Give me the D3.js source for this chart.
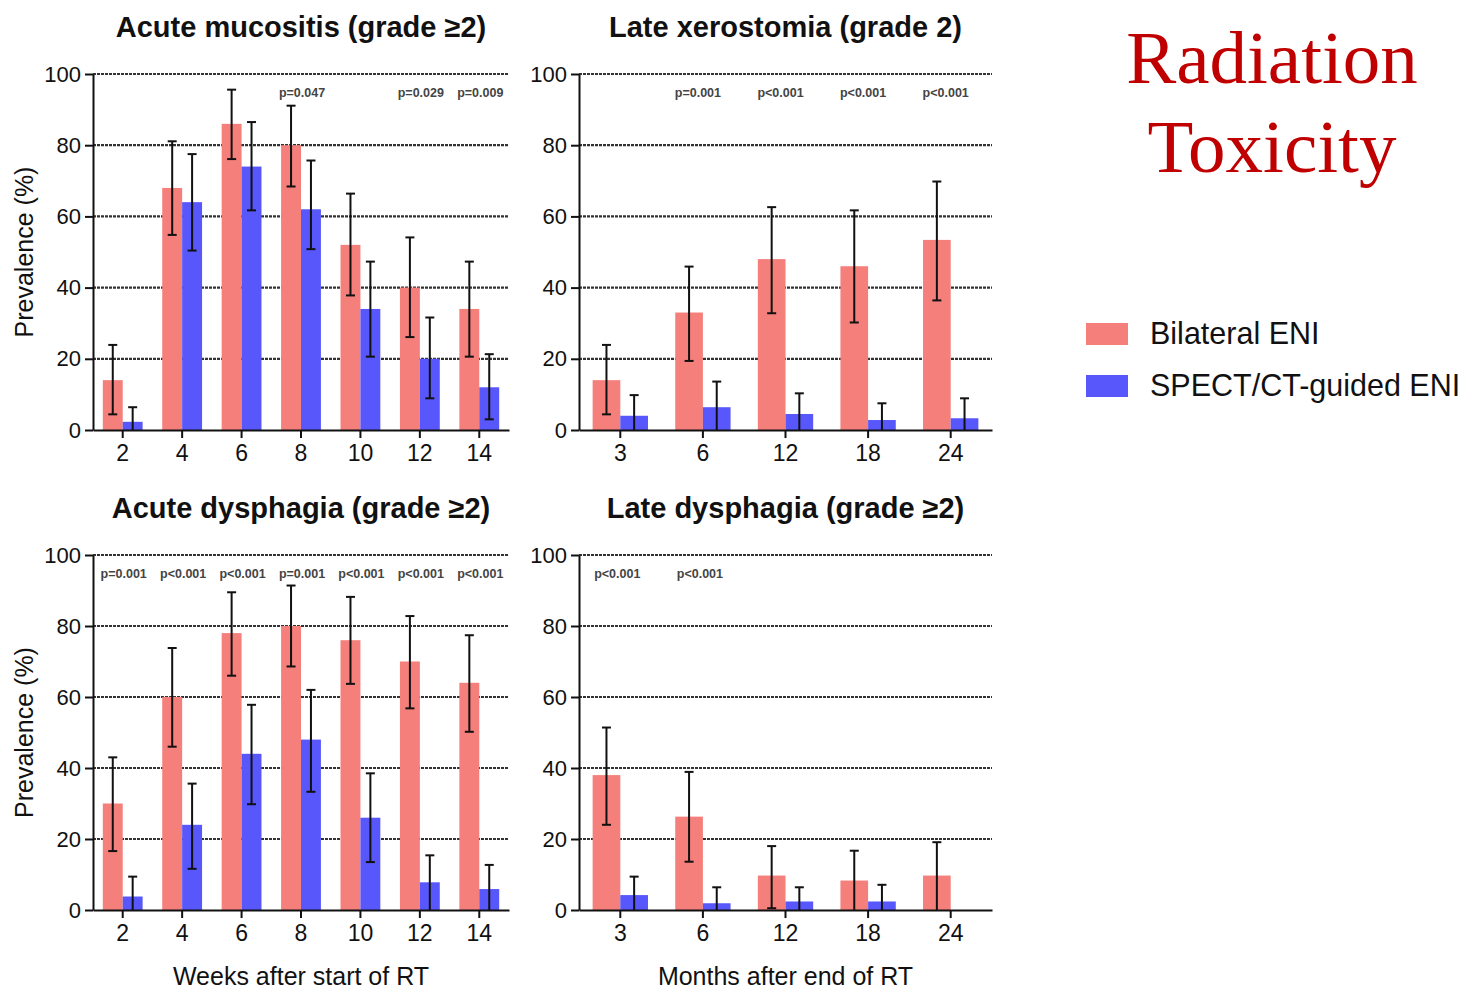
<!DOCTYPE html>
<html>
<head>
<meta charset="utf-8">
<script src="https://cdn.jsdelivr.net/npm/d3@7"></script>
<style>
  body { margin: 0; background: #fff; }
  svg { font-family: "Liberation Sans", Arial, sans-serif; }
</style>
</head>
<body>
<div id="chart"></div>
<script>
var width = 1468,
    height = 989;

// categories
var weeks = ["2", "4", "6", "8", "10", "12", "14"];
var months = ["3", "6", "12", "18", "24"];
var seriesNames = ["Bilateral ENI", "SPECT/CT-guided ENI"];

// acute mucositis (grade >=2)
var mucBil = [14, 68, 86, 80, 52, 40, 34];
var mucBilCI = [[4.4, 23.9], [54.8, 81.1], [76.1, 95.6], [68.4, 91.1], [37.8, 66.4], [26.1, 54.1], [20.6, 47.3]];
var mucSpe = [2.3, 64, 74, 62, 34, 20, 12];
var mucSpeCI = [[0, 6.4], [50.4, 77.5], [61.7, 86.5], [50.8, 75.7], [20.6, 47.3], [8.9, 31.6], [3, 21.3]];
var mucP = [null, null, null, "p=0.047", null, "p=0.029", "p=0.009"];

// late xerostomia (grade 2)
var xerBil = [14, 33, 48, 46, 53.4];
var xerBilCI = [[4.4, 23.9], [19.4, 45.9], [32.8, 62.6], [30.2, 61.7], [36.4, 69.8]];
var xerSpe = [4, 6.4, 4.5, 2.8, 3.3];
var xerSpeCI = [[0, 9.8], [0, 13.6], [0, 10.3], [0, 7.5], [0, 8.9]];
var xerP = [null, "p=0.001", "p<0.001", "p<0.001", "p<0.001"];

// acute dysphagia (grade >=2)
var adyBil = [30, 60, 78, 80, 76, 70, 64];
var adyBilCI = [[16.6, 43], [46, 73.8], [66, 89.5], [68.6, 91.4], [63.7, 88.2], [56.8, 82.8], [50.2, 77.4]];
var adySpe = [3.8, 24, 44, 48, 26, 7.8, 5.9];
var adySpeCI = [[0, 9.4], [11.6, 35.6], [29.8, 57.8], [33.3, 62], [13.5, 38.5], [0, 15.4], [0, 12.7]];
var adyP = ["p=0.001", "p<0.001", "p<0.001", "p=0.001", "p<0.001", "p<0.001", "p<0.001"];

// late dysphagia (grade >=2)
var ldyBil = [38, 26.3, 9.7, 8.3, 9.7];
var ldyBilCI = [[24, 51.4], [13.6, 38.9], [0.5, 18], [0, 16.7], [0, 19.1]];
var ldySpe = [4.2, 1.9, 2.4, 2.4, 0];
var ldySpeCI = [[0, 9.4], [0, 6.4], [0, 6.4], [0, 7.1], null];
var ldyP = ["p<0.001", "p<0.001", null, null, null];

var yTicks = [0, 20, 40, 60, 80, 100];

var color = d3.scaleOrdinal()
    .domain(seriesNames)
    .range(["#f47f7b", "#5757fb"]);

var svg = d3.select("#chart").append("svg")
    .attr("width", width)
    .attr("height", height);

var panels = [
    { title: "Acute mucositis (grade \u22652)", cats: weeks, bil: mucBil, bilCI: mucBilCI, spe: mucSpe, speCI: mucSpeCI, p: mucP,
      left: 93, right: 509, top: 74, bottom: 430, ylab: true, xlab: null, pShift: 1 },
    { title: "Late xerostomia (grade 2)", cats: months, bil: xerBil, bilCI: xerBilCI, spe: xerSpe, speCI: xerSpeCI, p: xerP,
      left: 579, right: 992, top: 74, bottom: 430, ylab: false, xlab: null, pShift: -5 },
    { title: "Acute dysphagia (grade \u22652)", cats: weeks, bil: adyBil, bilCI: adyBilCI, spe: adySpe, speCI: adySpeCI, p: adyP,
      left: 93, right: 509, top: 555, bottom: 910, ylab: true, xlab: "Weeks after start of RT", pShift: 1 },
    { title: "Late dysphagia (grade \u22652)", cats: months, bil: ldyBil, bilCI: ldyBilCI, spe: ldySpe, speCI: ldySpeCI, p: ldyP,
      left: 579, right: 992, top: 555, bottom: 910, ylab: false, xlab: "Months after end of RT", pShift: -3 }
];

panels.forEach(drawPanel);

function drawPanel(pn) {
    var g = svg.append("g");

    var x = d3.scaleBand()
        .domain(pn.cats)
        .range([pn.left, pn.right])
        .paddingInner(0.33)
        .paddingOuter(0.165);

    var xs = d3.scaleBand()
        .domain(seriesNames)
        .range([0, x.bandwidth()]);

    var y = d3.scaleLinear()
        .domain([0, 100])
        .range([pn.bottom, pn.top]);

    var cx = (pn.left + pn.right) / 2;

    // dotted grid lines
    g.append("g")
        .selectAll("line")
        .data(yTicks.slice(1))
        .enter()
            .append("line")
            .attr("x1", pn.left)
            .attr("x2", pn.right)
            .attr("y1", function(d) { return y(d); })
            .attr("y2", function(d) { return y(d); })
            .attr("stroke", "#333")
            .attr("stroke-width", 2.2)
            .attr("stroke-dasharray", "3,1");

    // rows: one per category, two bars each
    var rows = pn.cats.map(function(c, i) {
        return [
            { cat: c, s: seriesNames[0], v: pn.bil[i], ci: pn.bilCI[i] },
            { cat: c, s: seriesNames[1], v: pn.spe[i], ci: pn.speCI[i] }
        ];
    });
    var bars = [].concat.apply([], rows);

    g.append("g")
        .selectAll("rect")
        .data(bars.filter(function(d) { return d.v > 0; }))
        .enter()
            .append("rect")
            .attr("x", function(d) { return x(d.cat) + xs(d.s); })
            .attr("width", xs.bandwidth())
            .attr("y", function(d) { return y(d.v); })
            .attr("height", function(d) { return y(0) - y(d.v); })
            .attr("fill", function(d) { return color(d.s); });

    // error bars
    var eb = g.append("g")
        .attr("stroke", "#111")
        .attr("stroke-width", 2)
        .selectAll("g")
        .data(bars.filter(function(d) { return d.ci; }))
        .enter()
            .append("g");

    function ex(d) { return x(d.cat) + xs(d.s) + xs.bandwidth() / 2; }

    eb.append("line")
        .attr("x1", ex).attr("x2", ex)
        .attr("y1", function(d) { return y(d.ci[0]); })
        .attr("y2", function(d) { return y(d.ci[1]); });
    eb.append("line")
        .attr("x1", function(d) { return ex(d) - 4.5; })
        .attr("x2", function(d) { return ex(d) + 4.5; })
        .attr("y1", function(d) { return y(d.ci[1]); })
        .attr("y2", function(d) { return y(d.ci[1]); });
    eb.filter(function(d) { return d.ci[0] > 0; })
        .append("line")
        .attr("x1", function(d) { return ex(d) - 4.5; })
        .attr("x2", function(d) { return ex(d) + 4.5; })
        .attr("y1", function(d) { return y(d.ci[0]); })
        .attr("y2", function(d) { return y(d.ci[0]); });

    // axes
    var yAxis = g.append("g")
        .attr("transform", "translate(" + pn.left + ",0)")
        .call(d3.axisLeft(y).tickValues(yTicks).tickSize(8).tickSizeOuter(0).tickPadding(4));
    var xAxis = g.append("g")
        .attr("transform", "translate(0," + pn.bottom + ")")
        .call(d3.axisBottom(x).tickSize(8).tickSizeOuter(0).tickPadding(7));

    [yAxis, xAxis].forEach(function(a) {
        a.selectAll("path, line").attr("stroke", "#111").attr("stroke-width", 2);
        a.selectAll("text")
            .attr("fill", "#111")
            .style("font-family", "'Liberation Sans', Arial, sans-serif")
            .style("font-size", "22px");
    });
    xAxis.selectAll("text").style("font-size", "23px");

    // p-values
    g.append("g")
        .selectAll("text")
        .data(pn.cats.map(function(c, i) { return { cat: c, p: pn.p[i] }; })
            .filter(function(d) { return d.p; }))
        .enter()
            .append("text")
            .attr("x", function(d) { return x(d.cat) + x.bandwidth() / 2 + pn.pShift; })
            .attr("y", y(100) + 23)
            .attr("text-anchor", "middle")
            .attr("fill", "#444")
            .style("font-size", "12.5px")
            .style("font-weight", "bold")
            .text(function(d) { return d.p; });

    // title
    g.append("text")
        .attr("x", cx)
        .attr("y", pn.top - 37)
        .attr("text-anchor", "middle")
        .attr("fill", "#111")
        .style("font-size", "29px")
        .style("font-weight", "bold")
        .text(pn.title);

    if (pn.ylab) {
        g.append("text")
            .attr("transform", "translate(33," + (pn.top + pn.bottom) / 2 + ") rotate(-90)")
            .attr("text-anchor", "middle")
            .attr("fill", "#111")
            .style("font-size", "25px")
            .text("Prevalence (%)");
    }
    if (pn.xlab) {
        g.append("text")
            .attr("x", cx)
            .attr("y", pn.bottom + 75)
            .attr("text-anchor", "middle")
            .attr("fill", "#111")
            .style("font-size", "25px")
            .text(pn.xlab);
    }
}

// legend
var legend = svg.append("g")
    .selectAll("g")
    .data(seriesNames)
    .enter()
        .append("g")
        .attr("transform", function(d, i) { return "translate(1086," + (323 + i * 52) + ")"; });

legend.append("rect")
    .attr("width", 42)
    .attr("height", 22)
    .attr("fill", function(d) { return color(d); });
legend.append("text")
    .attr("x", 64)
    .attr("y", 21)
    .attr("fill", "#111")
    .style("font-size", "30.5px")
    .text(function(d) { return d; });

// big red heading
var heading = svg.append("text")
    .attr("text-anchor", "middle")
    .attr("fill", "#c00000")
    .style("font-family", "'Liberation Serif', 'Times New Roman', serif")
    .style("font-size", "75px");
heading.append("tspan").attr("x", 1272).attr("y", 83).text("Radiation");
heading.append("tspan").attr("x", 1272).attr("y", 172).text("Toxicity");
</script>
</body>
</html>
